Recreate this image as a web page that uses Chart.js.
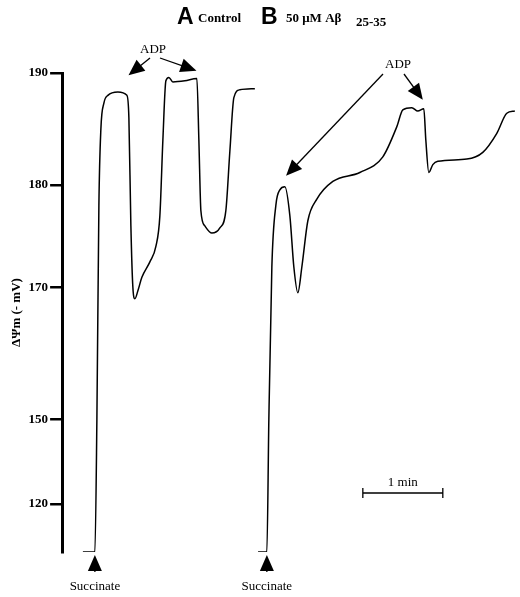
<!DOCTYPE html>
<html>
<head>
<meta charset="utf-8">
<script src="https://cdn.jsdelivr.net/npm/chart.js@4"></script>
<style>
  body { margin: 0; background: #fff; }
  #wrap { width: 520px; height: 597px; }
</style>
</head>
<body>
<div id="wrap"><canvas id="traceChart" width="520" height="597"></canvas></div>
<script>
// time in minutes, membrane potential in -mV
var timeA = [-0.15, 0, 0.025, 0.05, 0.075, 0.1125, 0.1625, 0.2875, 0.4, 0.425, 0.45, 0.475, 0.5, 0.5375, 0.5875, 0.6875, 0.7625, 0.8125, 0.85, 0.8875, 0.925, 0.975, 1.125, 1.275, 1.3, 1.325, 1.375, 1.4625, 1.5625, 1.6375, 1.6875, 1.7375, 1.8125, 2.0];
var mvA   = [103, 103, 150, 178, 185, 187.3, 188, 188.3, 188, 186, 176, 170, 168.3, 169.5, 171, 172.5, 174, 177, 184, 189.3, 189.6, 189.2, 189.3, 189.5, 184, 177.5, 176, 175.3, 175.8, 177.5, 183, 187.8, 188.5, 188.6];
var timeB = [2.04, 2.15, 2.175, 2.2125, 2.2625, 2.3125, 2.375, 2.4375, 2.4875, 2.5375, 2.5875, 2.6625, 2.775, 2.975, 3.3125, 3.6, 3.775, 3.85, 3.9625, 4.0375, 4.1125, 4.1375, 4.175, 4.225, 4.2875, 4.65, 4.85, 5.025, 5.15, 5.25];
var mvB   = [103, 103, 150, 172, 178, 179.5, 179.8, 177, 172, 169.2, 172, 176.5, 178.6, 180.3, 181.1, 182.5, 185.2, 186.7, 186.9, 186.6, 186.8, 184, 181.1, 181.8, 182.1, 182.3, 182.9, 184.6, 186.4, 186.6];

// the printed axis is broken: tick values and where they sit on the drawn axis
var tickMv  = [190, 180, 170, 150, 120, 103];
var tickPos = [0, -112, -215, -347, -432, -480];
var tickLabels = ['190', '180', '170', '150', '120', ''];

function mvToAxis(mv) {
    for (var i = 0; i < tickMv.length - 1; i++) {
        if (mv >= tickMv[i + 1] || i == tickMv.length - 2) {
            var f = (tickMv[i] - mv) / (tickMv[i] - tickMv[i + 1]);
            return tickPos[i] + f * (tickPos[i + 1] - tickPos[i]);
        }
    }
}

function toPoints(t, mv) {
    return t.map(function (x, i) { return { x: x, y: mvToAxis(mv[i]) }; });
}

function arrow(ctx, x1, y1, x2, y2) {
    var a = Math.atan2(y2 - y1, x2 - x1);
    ctx.beginPath();
    ctx.moveTo(x1, y1);
    ctx.lineTo(x2 - 8 * Math.cos(a), y2 - 8 * Math.sin(a));
    ctx.stroke();
    ctx.beginPath();
    ctx.moveTo(x2, y2);
    ctx.lineTo(x2 - 16 * Math.cos(a) + 7 * Math.sin(a), y2 - 16 * Math.sin(a) - 7 * Math.cos(a));
    ctx.lineTo(x2 - 16 * Math.cos(a) - 7 * Math.sin(a), y2 - 16 * Math.sin(a) + 7 * Math.cos(a));
    ctx.closePath();
    ctx.fill();
}

var annotations = {
    id: 'annotations',
    afterDraw: function (chart) {
        var ctx = chart.ctx;
        var xs = chart.scales.x, ys = chart.scales.y;
        function px(t) { return xs.getPixelForValue(t); }
        function py(mv) { return ys.getPixelForValue(mvToAxis(mv)); }
        ctx.save();
        ctx.fillStyle = '#000';
        ctx.strokeStyle = '#000';
        ctx.lineWidth = 1.3;
        ctx.textBaseline = 'alphabetic';

        // panel titles
        ctx.font = 'bold 23px "Liberation Sans", Arial';
        ctx.fillText('A', 177, 24);
        ctx.fillText('B', 261, 24);
        ctx.font = 'bold 13px "Liberation Serif", serif';
        ctx.fillText('Control', 198, 22);
        ctx.fillText('50 \u03bcM A\u03b2', 286, 22);
        ctx.fillText('25-35', 356, 26);

        // ADP labels and arrows
        ctx.font = '13px "Liberation Serif", serif';
        ctx.textAlign = 'center';
        ctx.fillText('ADP', 153, 53);
        ctx.fillText('ADP', 398, 68);
        arrow(ctx, 150, 58, px(0.42), py(189.8));
        arrow(ctx, 160, 58, px(1.27), py(190.2));
        arrow(ctx, 383, 74, px(2.39), py(180.8));
        arrow(ctx, 404, 74, px(4.1), py(187.6));

        // succinate arrows
        ctx.fillText('Succinate', px(0), 590);
        ctx.fillText('Succinate', px(2.15), 590);
        arrow(ctx, px(0), 572, px(0), 555);
        arrow(ctx, px(2.15), 572, px(2.15), 555);

        // 1 min scale bar
        var y = 493, xa = px(3.35), xb = px(4.35);
        ctx.beginPath();
        ctx.moveTo(xa, y); ctx.lineTo(xb, y);
        ctx.moveTo(xa, y - 5); ctx.lineTo(xa, y + 5);
        ctx.moveTo(xb, y - 5); ctx.lineTo(xb, y + 5);
        ctx.stroke();
        ctx.fillText('1 min', (xa + xb) / 2, 486);
        ctx.restore();
    }
};

var traceChart = new Chart(document.getElementById('traceChart'), {
    type: 'line',
    data: {
        datasets: [
            { data: toPoints(timeA, mvA), borderColor: '#000', borderWidth: 1.5, pointRadius: 0, cubicInterpolationMode: 'monotone' },
            { data: toPoints(timeB, mvB), borderColor: '#000', borderWidth: 1.5, pointRadius: 0, cubicInterpolationMode: 'monotone' }
        ]
    },
    options: {
        responsive: false,
        animation: false,
        layout: { padding: { top: 73, bottom: 45, right: 2, left: 7 } },
        plugins: { legend: { display: false }, tooltip: { enabled: false } },
        scales: {
            x: { type: 'linear', min: -0.41, max: 5.29, display: false },
            y: {
                type: 'linear', min: -480, max: 0,
                afterBuildTicks: function (axis) {
                    axis.ticks = tickPos.slice(0, 5).map(function (v) { return { value: v }; });
                },
                ticks: {
                    color: '#000',
                    padding: 2,
                    font: { family: '"Liberation Serif", serif', weight: 'bold', size: 13 },
                    callback: function (v) { return tickLabels[tickPos.indexOf(v)]; }
                },
                grid: { drawOnChartArea: false, drawTicks: true, tickLength: 12, color: '#000', lineWidth: 2.5 },
                border: { color: '#000', width: 3 },
                title: {
                    display: true, text: '\u0394\u03a8m (- mV)', color: '#000', padding: 2,
                    font: { family: '"Liberation Serif", serif', weight: 'bold', size: 13 }
                }
            }
        }
    },
    plugins: [annotations]
});
</script>
</body>
</html>
